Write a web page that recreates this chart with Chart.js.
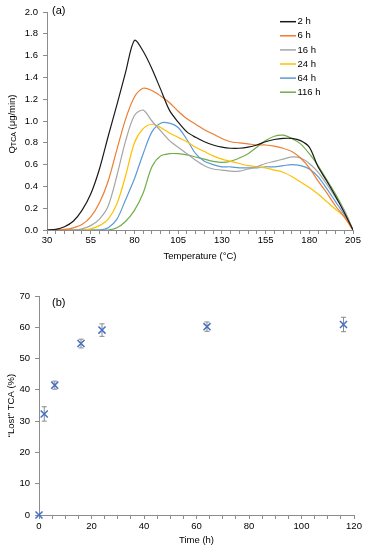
<!DOCTYPE html>
<html>
<head>
<meta charset="utf-8">
<script src="https://cdn.jsdelivr.net/npm/chart.js@4.4.0/dist/chart.umd.min.js"></script>
<style>
  html, body { margin: 0; padding: 0; background: #fff; }
  #wrap { position: relative; width: 370px; height: 550px; }
  #wrap canvas { position: absolute; left: 0; }
  #chartA { top: 0; }
  #chartB { top: 275px; }
</style>
</head>
<body>
<div id="wrap">
  <canvas id="chartA" width="370" height="275" style="width:370px;height:275px"></canvas>
  <canvas id="chartB" width="370" height="275" style="width:370px;height:275px"></canvas>
</div>
<script>
// Panel (a): desorption rate vs temperature, one curve per ageing time
const temps = [30, 35, 40, 45, 50, 55, 60, 65, 70, 75, 80, 85, 90, 95, 100, 105, 110, 115,
               120, 125, 130, 135, 140, 145, 150, 155, 160, 165, 170, 175, 180, 185, 190, 195, 200, 205];

const q2h   = [0, 0.005, 0.03, 0.08, 0.18, 0.33, 0.56, 0.86, 1.15, 1.45, 1.74, 1.64, 1.48, 1.29, 1.1, 0.99, 0.9, 0.85,
               0.81, 0.78, 0.76, 0.75, 0.75, 0.76, 0.78, 0.81, 0.83, 0.84, 0.84, 0.82, 0.76, 0.58, 0.45, 0.31, 0.16, 0];
const q6h   = [0, 0, 0.005, 0.02, 0.05, 0.12, 0.25, 0.45, 0.74, 1.02, 1.22, 1.3, 1.28, 1.23, 1.17, 1.09, 1.02, 0.97,
               0.92, 0.88, 0.84, 0.81, 0.8, 0.79, 0.78, 0.78, 0.77, 0.75, 0.72, 0.66, 0.57, 0.45, 0.34, 0.22, 0.12, 0];
const q16h  = [0, 0, 0, 0, 0.01, 0.04, 0.1, 0.22, 0.5, 0.82, 1.05, 1.1, 1.0, 0.91, 0.82, 0.76, 0.7, 0.64,
               0.59, 0.56, 0.55, 0.54, 0.54, 0.56, 0.58, 0.61, 0.63, 0.65, 0.67, 0.66, 0.61, 0.53, 0.42, 0.3, 0.18, 0];
const q24h  = [0, 0, 0, 0, 0, 0.01, 0.04, 0.1, 0.24, 0.5, 0.8, 0.93, 0.97, 0.94, 0.89, 0.85, 0.81, 0.76,
               0.72, 0.68, 0.65, 0.63, 0.61, 0.59, 0.58, 0.57, 0.55, 0.53, 0.49, 0.44, 0.39, 0.33, 0.26, 0.19, 0.12, 0];
const q64h  = [0, 0, 0, 0, 0, 0, 0, 0.02, 0.1, 0.28, 0.47, 0.7, 0.9, 0.98, 0.98, 0.94, 0.83, 0.7,
               0.63, 0.6, 0.58, 0.58, 0.57, 0.57, 0.57, 0.58, 0.58, 0.59, 0.6, 0.59, 0.56, 0.49, 0.38, 0.26, 0.14, 0];
const q116h = [0, 0, 0, 0, 0, 0, 0, 0, 0.02, 0.08, 0.18, 0.34, 0.58, 0.68, 0.7, 0.7, 0.69, 0.67,
               0.65, 0.63, 0.62, 0.63, 0.66, 0.7, 0.76, 0.82, 0.86, 0.87, 0.84, 0.79, 0.7, 0.59, 0.46, 0.33, 0.18, 0];

const seriesLabels = ['2 h', '6 h', '16 h', '24 h', '64 h', '116 h'];
const seriesValues = [q2h, q6h, q16h, q24h, q64h, q116h];

// Panel (b): lost TCA vs time
const times   = [0, 2, 6, 16, 24, 64, 116];
const lost    = [0, 32.3, 41.5, 54.8, 59.1, 60.2, 60.9];
const lostErr = [0, 2.3, 1.3, 1.4, 2.0, 1.5, 2.3];

// Styles
const FONT = '"Liberation Sans", Arial, Helvetica, sans-serif';
const AXIS_GRAY = '#8c8c8c';
const LINE_COLORS = ['#1a1a1a', '#ED7D31', '#A5A5A5', '#FFC000', '#5B9BD5', '#70AD47'];
const MARKER_BLUE = '#4472C4';
const ERR_GRAY = '#8a8a8a';

Chart.defaults.font.family = FONT;
Chart.defaults.font.size = 9.5;
Chart.defaults.color = '#000';

function axisGrid() {
    return { drawOnChartArea: false, tickLength: 4, color: AXIS_GRAY };
}

// Legend, panel letter and subscripted y title for panel (a)
const panelA = {
    id: 'panelA',
    afterDraw(chart) {
        const ctx = chart.ctx;
        ctx.save();
        ctx.fillStyle = '#000';
        ctx.textBaseline = 'middle';
        ctx.font = `11px ${FONT}`;
        ctx.fillText('(a)', 52, 11);

        ctx.font = `9.5px ${FONT}`;
        chart.data.datasets.forEach((ds, i) => {
            const y = 21.7 + i * 14.1;
            ctx.strokeStyle = ds.borderColor;
            ctx.lineWidth = 1.5;
            ctx.beginPath();
            ctx.moveTo(280, y);
            ctx.lineTo(296, y);
            ctx.stroke();
            ctx.fillText(ds.label, 297.5, y);
        });

        // Q_TCA (µg/min), rotated
        ctx.translate(12, 124);
        ctx.rotate(-Math.PI / 2);
        const big = `9.5px ${FONT}`;
        const small = `7px ${FONT}`;
        ctx.font = big;
        const wQ = ctx.measureText('Q').width;
        const wRest = ctx.measureText(' (μg/min)').width;
        ctx.font = small;
        const wSub = ctx.measureText('TCA').width;
        let x0 = -(wQ + wSub + wRest) / 2;
        ctx.font = big;
        ctx.fillText('Q', x0, 0);
        ctx.font = small;
        ctx.fillText('TCA', x0 + wQ, 2.5);
        ctx.font = big;
        ctx.fillText(' (μg/min)', x0 + wQ + wSub, 0);
        ctx.restore();
    }
};

const panelB = {
    id: 'panelB',
    afterDraw(chart) {
        const ctx = chart.ctx;
        ctx.save();
        ctx.fillStyle = '#000';
        ctx.textBaseline = 'middle';
        ctx.font = `11px ${FONT}`;
        ctx.fillText('(b)', 52, 28);
        ctx.restore();
    }
};

const errorBars = {
    id: 'errorBars',
    beforeDatasetsDraw(chart) {
        const { ctx, scales: { x, y } } = chart;
        ctx.save();
        ctx.strokeStyle = ERR_GRAY;
        ctx.lineWidth = 1;
        times.forEach((t, i) => {
            if (!lostErr[i]) return;
            const px = x.getPixelForValue(t);
            const top = y.getPixelForValue(lost[i] + lostErr[i]);
            const bot = y.getPixelForValue(lost[i] - lostErr[i]);
            ctx.beginPath();
            ctx.moveTo(px, top); ctx.lineTo(px, bot);
            ctx.moveTo(px - 2.5, top); ctx.lineTo(px + 2.5, top);
            ctx.moveTo(px - 2.5, bot); ctx.lineTo(px + 2.5, bot);
            ctx.stroke();
        });
        ctx.restore();
    }
};

new Chart(document.getElementById('chartA'), {
    type: 'line',
    data: {
        datasets: seriesValues.map((vals, i) => ({
            label: seriesLabels[i],
            data: vals.map((v, j) => ({ x: temps[j], y: v })),
            borderColor: LINE_COLORS[i],
            borderWidth: 1.2,
            pointRadius: 0,
            tension: 0.3,
            fill: false
        }))
    },
    options: {
        responsive: false,
        animation: false,
        layout: { padding: { top: 12, right: 17, left: 0, bottom: 0 } },
        plugins: { legend: { display: false }, tooltip: { enabled: false } },
        scales: {
            x: {
                type: 'linear',
                min: 30,
                max: 205,
                afterFit: s => { s.height = 45; },
                ticks: {
                    stepSize: 5,
                    autoSkip: false,
                    maxRotation: 0,
                    padding: 1,
                    callback: v => ((v - 30) % 25 === 0 ? v : '')
                },
                grid: axisGrid(),
                border: { color: AXIS_GRAY },
                title: { display: true, text: 'Temperature (°C)', padding: { top: 0, bottom: 13 } }
            },
            y: {
                min: 0,
                max: 2,
                afterFit: s => { s.width = 47; },
                ticks: { stepSize: 0.2, padding: 5, callback: v => v.toFixed(1) },
                grid: axisGrid(),
                border: { color: AXIS_GRAY }
            }
        }
    },
    plugins: [panelA]
});

new Chart(document.getElementById('chartB'), {
    type: 'scatter',
    data: {
        datasets: [{
            label: 'Lost TCA',
            data: times.map((t, i) => ({ x: t, y: lost[i] })),
            pointStyle: 'crossRot',
            pointRadius: 5,
            borderColor: MARKER_BLUE,
            borderWidth: 1.5,
            clip: false
        }]
    },
    options: {
        responsive: false,
        animation: false,
        layout: { padding: { top: 21, right: 16, left: 0, bottom: 0 } },
        plugins: { legend: { display: false }, tooltip: { enabled: false } },
        scales: {
            x: {
                type: 'linear',
                min: 0,
                max: 120,
                afterFit: s => { s.height = 35; },
                ticks: {
                    stepSize: 5,
                    autoSkip: false,
                    maxRotation: 0,
                    padding: 2,
                    callback: v => (v % 20 === 0 ? v : '')
                },
                grid: axisGrid(),
                border: { color: AXIS_GRAY },
                title: { display: true, text: 'Time (h)', padding: { top: 0, bottom: 4 } }
            },
            y: {
                min: 0,
                max: 70,
                afterFit: s => { s.width = 39; },
                ticks: { stepSize: 10, padding: 5 },
                grid: axisGrid(),
                border: { color: AXIS_GRAY },
                title: { display: true, text: '“Lost” TCA (%)', padding: { top: 6, bottom: 0 } }
            }
        }
    },
    plugins: [errorBars, panelB]
});
</script>
</body>
</html>
